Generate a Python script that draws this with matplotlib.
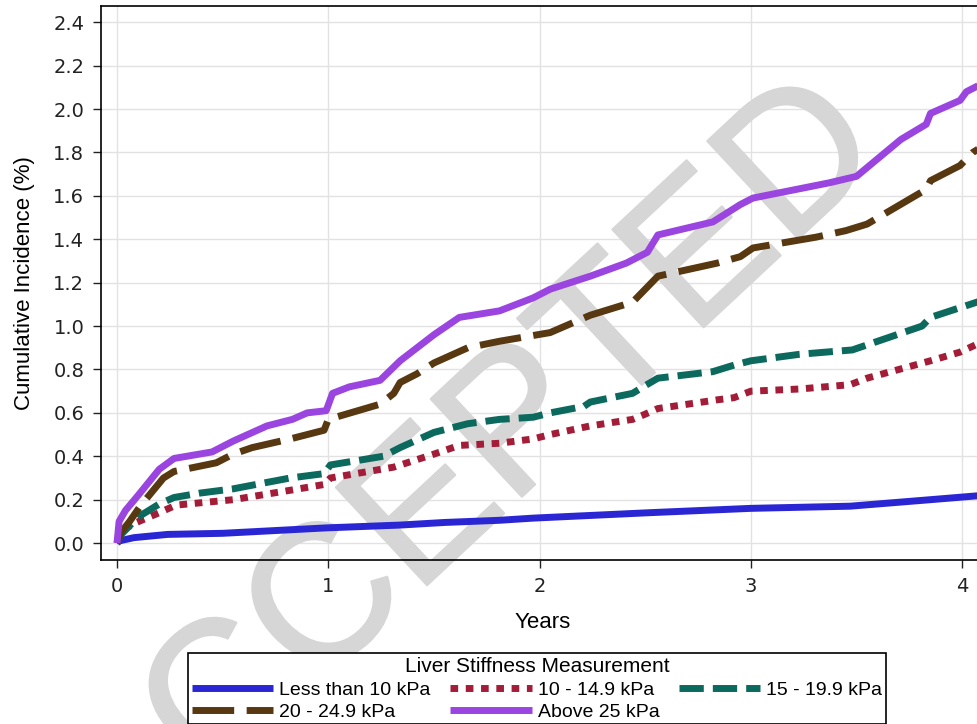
import matplotlib
matplotlib.use("Agg")
import matplotlib.pyplot as plt
import matplotlib.patheffects as pe

# cumulative incidence (%) by liver stiffness group
t_lt10 = [0, 0.01, 0.08, 0.24, 0.5, 0.99, 1.34, 1.55, 1.81, 1.97, 2.52, 3.0, 3.47, 3.85, 4.1]
y_lt10 = [0, 0.01, 0.025, 0.04, 0.045, 0.07, 0.083, 0.095, 0.105, 0.115, 0.14, 0.16, 0.17, 0.20, 0.22]

t_10_15 = [0, 0.03, 0.08, 0.2, 0.28, 0.55, 0.83, 0.98, 1.01, 1.31, 1.5, 1.62, 1.81, 1.97, 2.05,
           2.24, 2.44, 2.49, 2.56, 2.84, 2.92, 3.0, 3.23, 3.47, 3.55, 3.85, 3.99, 4.1]
y_10_15 = [0, 0.06, 0.09, 0.14, 0.175, 0.20, 0.245, 0.27, 0.30, 0.35, 0.41, 0.45, 0.46, 0.48, 0.50,
           0.54, 0.57, 0.59, 0.62, 0.66, 0.67, 0.70, 0.71, 0.73, 0.76, 0.84, 0.88, 0.93]

t_15_20 = [0, 0.02, 0.05, 0.1, 0.2, 0.27, 0.39, 0.55, 0.82, 0.98, 1.01, 1.26, 1.34, 1.5, 1.66, 1.81,
           1.97, 2.05, 2.21, 2.24, 2.44, 2.49, 2.56, 2.82, 2.92, 3.0, 3.23, 3.48, 3.81, 3.85, 4.1]
y_15_20 = [0, 0.04, 0.07, 0.12, 0.18, 0.21, 0.23, 0.25, 0.30, 0.32, 0.36, 0.40, 0.44, 0.51, 0.55, 0.57,
           0.58, 0.60, 0.63, 0.65, 0.69, 0.72, 0.76, 0.79, 0.82, 0.84, 0.87, 0.89, 1.00, 1.04, 1.12]

t_20_25 = [0, 0.02, 0.06, 0.11, 0.22, 0.27, 0.47, 0.55, 0.64, 0.82, 0.98, 1.0, 1.245, 1.31, 1.34, 1.42,
           1.5, 1.66, 1.81, 2.05, 2.24, 2.44, 2.48, 2.56, 2.84, 2.95, 3.01, 3.31, 3.45, 3.55, 3.83,
           3.85, 3.99, 4.05, 4.1]
y_20_25 = [0, 0.05, 0.1, 0.17, 0.30, 0.33, 0.37, 0.41, 0.44, 0.48, 0.52, 0.57, 0.64, 0.69, 0.74, 0.78,
           0.83, 0.90, 0.93, 0.97, 1.05, 1.11, 1.15, 1.23, 1.29, 1.32, 1.36, 1.41, 1.44, 1.47, 1.63,
           1.67, 1.74, 1.80, 1.83]

t_gt25 = [0, 0.01, 0.04, 0.1, 0.2, 0.27, 0.45, 0.55, 0.71, 0.83, 0.9, 0.99, 1.02, 1.1, 1.245, 1.34,
          1.42, 1.5, 1.62, 1.81, 1.97, 2.05, 2.24, 2.41, 2.51, 2.56, 2.82, 2.95, 3.01, 3.37, 3.50,
          3.71, 3.83, 3.85, 3.99, 4.02, 4.1]
y_gt25 = [0, 0.1, 0.15, 0.22, 0.34, 0.39, 0.42, 0.47, 0.54, 0.57, 0.60, 0.61, 0.69, 0.72, 0.75, 0.84,
          0.90, 0.96, 1.04, 1.07, 1.13, 1.17, 1.23, 1.29, 1.34, 1.42, 1.48, 1.56, 1.59, 1.66, 1.69,
          1.86, 1.93, 1.98, 2.04, 2.08, 2.12]

labels = ["Less than 10 kPa", "10 - 14.9 kPa", "15 - 19.9 kPa", "20 - 24.9 kPa", "Above 25 kPa"]
x_ticks = [0, 1, 2, 3, 4]
y_ticks = [0.0, 0.2, 0.4, 0.6, 0.8, 1.0, 1.2, 1.4, 1.6, 1.8, 2.0, 2.2, 2.4]

fig = plt.figure(figsize=(9.77, 7.24), dpi=100)
ax = fig.add_axes([101 / 977, 164 / 724, 884 / 977, 554 / 724])

lw = 5
l1, = ax.plot(t_lt10, y_lt10, color="#2b26d3", lw=lw, solid_capstyle="butt", label=labels[0])
l2, = ax.plot(t_10_15, y_10_15, color="#a31d38", lw=lw, ls=(0, (1.1, 1.1)),
              dash_capstyle="butt", label=labels[1])
l3, = ax.plot(t_15_20, y_15_20, color="#0c695d", lw=lw, ls=(0, (3.5, 1.3)),
              dash_capstyle="butt", label=labels[2])
l4, = ax.plot(t_20_25, y_20_25, color="#583810", lw=lw, ls=(0, (6, 1.8)),
              dash_capstyle="butt", label=labels[3])
l5, = ax.plot(t_gt25, y_gt25, color="#9b45e0", lw=lw, solid_capstyle="butt", label=labels[4])

ax.set_xlim(-0.0757, 4.108)
ax.set_ylim(-0.078, 2.475)
ax.set_xticks(x_ticks)
ax.set_yticks(y_ticks)
ax.set_yticklabels([f"{v:.1f}" for v in y_ticks])
ax.grid(True, color="#e2e2e2", lw=1)
ax.set_axisbelow(True)
for s in ax.spines.values():
    s.set_color("black")
    s.set_linewidth(1.2)
ax.tick_params(length=6, width=1, labelsize=14, colors="#222222", pad=6)
for lab in ax.get_xticklabels() + ax.get_yticklabels():
    lab.set_family("DejaVu Sans")

ax.set_xlabel("Years", fontsize=16, family="Liberation Sans", labelpad=12)
ax.set_ylabel("Cumulative Incidence (%)", fontsize=16, family="Liberation Sans", labelpad=13)

# watermark
ax.text(468 / 977, 1 - 478 / 724, "ACCEPTED", transform=fig.transFigure, fontsize=140,
        family="Liberation Sans", color="#d6d6d6", rotation=43,
        ha="center", va="center", zorder=1.5, clip_on=False,
        path_effects=[pe.withStroke(linewidth=1.5, foreground="#d6d6d6")])

leg = fig.legend(handles=[l1, l4, l2, l5, l3], loc="upper center", ncol=3,
                 bbox_to_anchor=(537 / 977, 1 - 653 / 724), borderaxespad=0,
                 title="Liver Stiffness Measurement",
                 prop={"family": "Liberation Sans", "size": 14},
                 title_fontproperties={"family": "Liberation Sans", "size": 15},
                 handlelength=4.2, handletextpad=0.3, columnspacing=1.0, labelspacing=0.2,
                 borderpad=0.2, fancybox=False, edgecolor="black", framealpha=1)
leg.get_frame().set_linewidth(1.2)
leg._legend_box.sep = 4
leg.set_zorder(5)

fig.savefig("out.png", dpi=100)
